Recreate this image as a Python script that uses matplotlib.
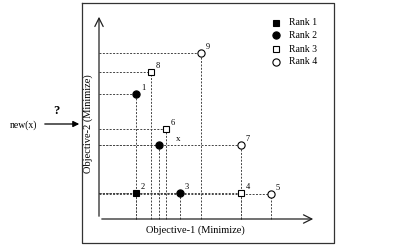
import matplotlib.pyplot as plt

plt.rcParams['font.family'] = ['Liberation Serif', 'DejaVu Serif']

# objective values of the solutions (f1, f2), both minimised
labels = ['1', '2', '3', '4', '5', '6', '7', '8', '9', 'x']
f1 = [37, 37, 81, 142, 172, 67, 142, 52, 102, 60]
f2 = [125, 26, 26, 26, 25, 90, 74, 147, 166, 74]
ranks = [2, 1, 2, 3, 4, 3, 4, 3, 4, 2]

rank_names = ['Rank 1', 'Rank 2', 'Rank 3', 'Rank 4']
rank_marker = {1: 's', 2: 'o', 3: 's', 4: 'o'}
rank_face = {1: 'black', 2: 'black', 3: 'white', 4: 'white'}

fig = plt.figure(figsize=(4.03, 2.47), dpi=100)
ax = fig.add_axes([0, 0, 1, 1])
ax.set_xlim(-99, 304)
ax.set_ylim(-28, 219)
ax.axis('off')

# outer frame
ax.plot([-17, 235, 235, -17, -17], [216, 216, -24, -24, 216], color='#333', lw=0.9)

# axes with arrows
ax.annotate('', xy=(217, 0), xytext=(0, 0),
            arrowprops=dict(arrowstyle='->', color='#222', lw=0.9, mutation_scale=15))
ax.annotate('', xy=(0, 205), xytext=(0, 0),
            arrowprops=dict(arrowstyle='->', color='#222', lw=0.9, mutation_scale=15))

# dashed guide lines
for a, b in zip(f1, f2):
    ax.plot([0, a], [b, b], color='#444', lw=0.7, ls=(0, (2, 1.5)), zorder=1)
    ax.plot([a, a], [0, b], color='#444', lw=0.7, ls=(0, (2, 1.5)), zorder=1)

# points
for a, b, r in zip(f1, f2, ranks):
    ms = 5.2 if rank_marker[r] == 'o' else 4.6
    ax.plot(a, b, marker=rank_marker[r], ms=ms, mfc=rank_face[r], mec='black',
            mew=0.8, ls='none', zorder=3)

for a, b, t in zip(f1, f2, labels):
    if t == 'x':
        ax.text(a + 19, b + 6, t, fontsize=6.5, ha='center', va='center')
    else:
        ax.text(a + 7, b + 6, t, fontsize=6, ha='center', va='center')

# legend
leg_y = [196, 184, 170, 157]
for i, name in enumerate(rank_names):
    r = i + 1
    ms = 5.2 if rank_marker[r] == 'o' else 4.6
    ax.plot(177, leg_y[i], marker=rank_marker[r], ms=ms, mfc=rank_face[r],
            mec='black', mew=0.8, ls='none')
    ax.text(190, leg_y[i], name, fontsize=7, va='center', ha='left')

ax.text(96, -11, 'Objective-1 (Minimize)', fontsize=7.5, ha='center', va='center')
ax.text(-11, 95, 'Objective-2 (Minimize)', fontsize=7.5, ha='center', va='center',
        rotation=90)

# new solution arrow
ax.annotate('', xy=(-17, 95), xytext=(-57, 95),
            arrowprops=dict(arrowstyle='-|>', color='black', lw=0.9, mutation_scale=9))
ax.text(-76, 94, 'new(x)', fontsize=7, ha='center', va='center')
ax.text(-43, 108, '?', fontsize=9, fontweight='bold', ha='center', va='center')

fig.savefig('out.png', dpi=100)
